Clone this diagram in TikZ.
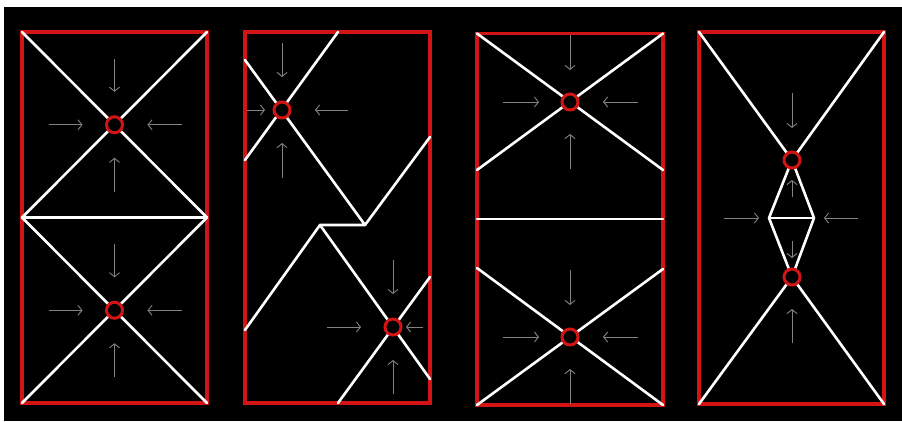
\documentclass[tikz,border=0pt]{standalone}
\usetikzlibrary{arrows.meta,calc}
\definecolor{rd}{RGB}{210,20,20}
\definecolor{ar}{RGB}{130,130,130}
\begin{document}
\begin{tikzpicture}[x=1pt,y=-1pt,
  frame/.style={draw=rd,line width=3.2pt},
  wall/.style={draw=white,line width=2.6pt,line cap=round,line join=round},
  sink/.style={circle,draw=rd,fill=black,line width=3pt,minimum size=16pt,inner sep=0pt},
  flow/.style={draw=ar,line width=0.9pt,-{Straight Barb[length=4pt,width=10pt]}}]
\fill[white] (0,0) rectangle (902,421);
\fill[black] (4,7) rectangle (902,421);
\useasboundingbox (0,0) rectangle (902,421);

% ---------- panel 1 ----------
\coordinate (a1) at (22,32);   \coordinate (b1) at (207,32);
\coordinate (m1) at (22,217.5); \coordinate (n1) at (207,217.5);
\coordinate (e1) at (22,403);  \coordinate (f1) at (207,403);
\coordinate (c1) at (114.5,124.75);
\coordinate (c2) at (114.5,310.25);
\draw[frame] (a1) rectangle (f1);
\draw[wall] (a1) -- (n1);
\draw[wall] (b1) -- (m1);
\draw[wall] (m1) -- (n1);
\draw[wall] (m1) -- (f1);
\draw[wall] (n1) -- (e1);
\node[sink] (s1) at (c1) {};
\node[sink] (s2) at (c2) {};
\foreach \c in {c1,c2}{
  \draw[flow] ($(\c)+(0,-66)$) -- ($(\c)+(0,-33)$);
  \draw[flow] ($(\c)+(0,67)$) -- ($(\c)+(0,33)$);
  \draw[flow] ($(\c)+(-66,0)$) -- ($(\c)+(-32,0)$);
  \draw[flow] ($(\c)+(67,0)$) -- ($(\c)+(33,0)$);
}

% ---------- panel 2 ----------
\coordinate (a2) at (245,32); \coordinate (f2) at (430,403);
\coordinate (c3) at (282,110); \coordinate (c4) at (393,327);
\coordinate (p1) at (338,32);  \coordinate (p2) at (245,160);
\coordinate (p3) at (245,60);  \coordinate (p4) at (365,225);
\coordinate (p5) at (320,225); \coordinate (p6) at (245,330);
\coordinate (p7) at (430,137); \coordinate (p8) at (430,379);
\coordinate (p9) at (338,403); \coordinate (p10) at (430,277);
\draw[frame] (a2) rectangle (f2);
\draw[wall] (p1) -- (p2);
\draw[wall] (p3) -- (p4) -- (p5) -- (p6);
\draw[wall] (p7) -- (p4);
\draw[wall] (p5) -- (p8);
\draw[wall] (p9) -- (p10);
\node[sink] (s3) at (c3) {};
\node[sink] (s4) at (c4) {};
\draw[flow] ($(c3)+(0,-67)$) -- ($(c3)+(0,-33)$);
\draw[flow] ($(c3)+(0,68)$) -- ($(c3)+(0,33)$);
\draw[flow] ($(c3)+(-35,0)$) -- ($(c3)+(-17,0)$);
\draw[flow] ($(c3)+(66,0)$) -- ($(c3)+(33,0)$);
\draw[flow] ($(c4)+(0,-67)$) -- ($(c4)+(0,-33)$);
\draw[flow] ($(c4)+(0,67)$) -- ($(c4)+(0,33)$);
\draw[flow] ($(c4)+(-66,0)$) -- ($(c4)+(-32,0)$);
\draw[flow] ($(c4)+(30,0)$) -- ($(c4)+(13,0)$);

% ---------- panel 3 ----------
\coordinate (a3) at (477,33.5); \coordinate (b3) at (663,33.5);
\coordinate (f3) at (663,405);  \coordinate (e3) at (477,405);
\coordinate (q1) at (477,170);  \coordinate (q2) at (663,170);
\coordinate (q3) at (477,219);  \coordinate (q4) at (663,219);
\coordinate (q5) at (477,268);  \coordinate (q6) at (663,269);
\coordinate (c5) at (570,102);  \coordinate (c6) at (570,337);
\draw[frame] (a3) rectangle (f3);
\draw[wall] (a3) -- (q2);
\draw[wall] (b3) -- (q1);
\draw[wall] (q3) -- (q4);
\draw[wall] (q5) -- (f3);
\draw[wall] (q6) -- (e3);
\node[sink] (s5) at (c5) {};
\node[sink] (s6) at (c6) {};
\foreach \c in {c5,c6}{
  \draw[flow] ($(\c)+(0,-67)$) -- ($(\c)+(0,-32)$);
  \draw[flow] ($(\c)+(0,67)$) -- ($(\c)+(0,32)$);
  \draw[flow] ($(\c)+(-67,0)$) -- ($(\c)+(-31,0)$);
  \draw[flow] ($(\c)+(68,0)$) -- ($(\c)+(33,0)$);
}

% ---------- panel 4 ----------
\coordinate (a4) at (699,32);  \coordinate (b4) at (884,32);
\coordinate (e4) at (699,404); \coordinate (f4) at (884,404);
\coordinate (c7) at (792,160); \coordinate (c8) at (792,277);
\coordinate (dl) at (769,218); \coordinate (dr) at (814,218);
\draw[frame] (a4) rectangle (f4);
\draw[wall] (a4) -- (c7) -- (b4);
\draw[wall] (c7) -- (dl) -- (c8) -- (dr) -- cycle;
\draw[wall] (dl) -- (dr);
\draw[wall] (e4) -- (c8) -- (f4);
\node[sink] (s7) at (c7) {};
\node[sink] (s8) at (c8) {};
\draw[flow] ($(c7)+(0,-67)$) -- ($(c7)+(0,-32)$);
\draw[flow] ($(c7)+(0,37)$) -- ($(c7)+(0,20)$);
\draw[flow] ($(dl)+(-45,0)$) -- ($(dl)+(-10,0)$);
\draw[flow] ($(dr)+(44,0)$) -- ($(dr)+(10,0)$);
\draw[flow] ($(c8)+(0,-36)$) -- ($(c8)+(0,-19)$);
\draw[flow] ($(c8)+(0,66)$) -- ($(c8)+(0,32)$);
\end{tikzpicture}
\end{document}
